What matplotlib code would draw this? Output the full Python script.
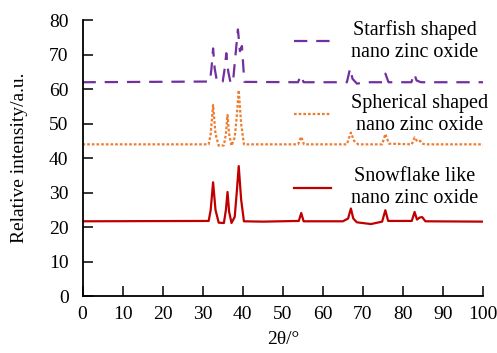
import matplotlib
matplotlib.use("Agg")
import matplotlib.pyplot as plt
from matplotlib.lines import Line2D

plt.rcParams['font.family'] = ['Liberation Serif', 'DejaVu Serif']

# --- data (2theta in degrees, relative intensity) ---
snow_x = [0, 31.5, 32.0, 32.6, 33.2, 34.0, 35.3, 35.8, 36.2, 36.6, 37.2, 38.0, 38.5, 39.0, 39.6, 40.3,
          45, 54.0, 54.6, 55.2, 65, 66.3, 67.0, 67.6, 68.5, 72, 74.8, 75.6, 76.3, 82.2, 82.9, 83.5,
          84.2, 84.8, 85.6, 100]
snow_y = [21.7, 21.8, 25, 33, 25, 21.3, 21.2, 25, 30.2, 24.5, 21.2, 23, 30, 37.7, 28, 21.7,
          21.6, 21.8, 24.1, 21.7, 21.7, 22.5, 25.4, 22.5, 21.4, 20.9, 21.6, 24.9, 21.8, 21.8, 24.4, 22.2,
          22.8, 22.9, 21.7, 21.6]

sph_x = [0, 31.5, 32.0, 32.6, 33.2, 34.0, 35.3, 35.8, 36.2, 36.6, 37.2, 38.0, 38.5, 39.0, 39.6, 40.3,
         53.8, 54.6, 55.3, 66.0, 67.0, 67.8, 68.8, 74.8, 75.6, 76.5, 82.2, 82.9, 83.6, 84.3, 84.8,
         85.6, 100]
sph_y = [44, 44, 47, 55.4, 47, 43.6, 43.7, 47, 52.5, 47, 43.6, 46, 52, 59.7, 50, 44,
         44, 46.2, 44, 44, 47.4, 45, 44, 44, 47.0, 44.2, 44, 46.0, 44.8, 45.0, 44.2,
         44, 44]

star_x = [0, 31.8, 32.2, 32.6, 33.0, 33.6, 35.0, 35.5, 35.9, 36.4, 37.0, 37.6, 38.2, 38.8, 39.3, 39.8,
          40.4, 53.8, 54.5, 55.2, 66.0, 66.8, 67.4, 68.5, 71, 74.8, 75.6, 76.4, 82.1, 82.8, 83.4,
          84.5, 100]
star_y = [62, 62.2, 66, 71.8, 66, 62, 62.2, 66, 70.4, 65, 61.6, 62.5, 70, 77.3, 71, 72.5,
          62.1, 62, 64, 62, 62, 66, 63, 61.6, 62, 62, 64.5, 62, 62, 64.5, 62.5,
          62, 62]

labels = ['Starfish shaped\nnano zinc oxide',
          'Spherical shaped\nnano zinc oxide',
          'Snowflake like\nnano zinc oxide']

purple = '#7030A0'
orange = '#ED7D31'
red = '#C00000'

fig = plt.figure(figsize=(4.97, 3.53), dpi=100)
ax = fig.add_axes([0.166, 0.161, 0.806, 0.782])

ax.plot(snow_x, snow_y, color=red, lw=1.6)
ax.plot(sph_x, sph_y, color=orange, lw=1.6, dashes=(1.2, 0.9))
ax.plot(star_x, star_y, color=purple, lw=1.6, dashes=(6, 4))

ax.set_xlim(0, 100)
ax.set_ylim(0, 80)
ax.set_xticks(range(0, 101, 10))
ax.set_yticks(range(0, 81, 10))
for s in ['top', 'right']:
    ax.spines[s].set_visible(False)
for s in ['left', 'bottom']:
    ax.spines[s].set_linewidth(1.3)
ax.tick_params(direction='in', length=7, width=1.1, labelsize=14)
ax.tick_params(axis='y', pad=10)
ax.tick_params(axis='x', pad=7)

ax.set_xlabel('2θ/°', fontsize=14, labelpad=6)
ax.set_ylabel('Relative intensity/a.u.', fontsize=14, labelpad=15)

handles = [Line2D([], [], color=purple, lw=1.6, dashes=(6, 4)),
           Line2D([], [], color=orange, lw=1.6, dashes=(1.2, 0.9)),
           Line2D([], [], color=red, lw=1.6)]
leg = ax.legend(handles, labels, loc='upper right', bbox_to_anchor=(1.006, 0.977),
                bbox_transform=fig.transFigure, frameon=False, fontsize=14.5,
                handlelength=1.8, handletextpad=1.0, labelspacing=1.6,
                borderaxespad=0.2)
for t in leg.get_texts():
    t.set_multialignment('center')

fig.savefig('out.png', dpi=100)
